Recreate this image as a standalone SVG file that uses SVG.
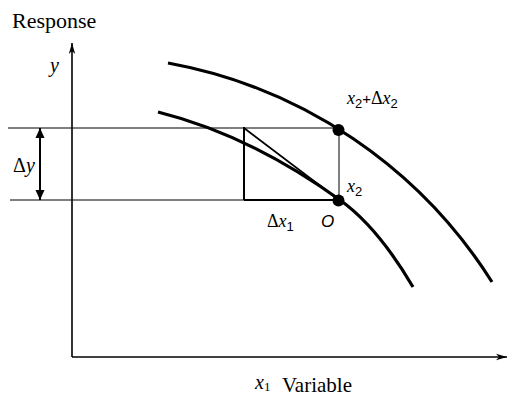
<svg xmlns="http://www.w3.org/2000/svg" width="524" height="403" viewBox="0 0 524 403">
<style>
text{font-family:"Liberation Serif","Tinos","DejaVu Serif","Times New Roman",serif;fill:#000}
.i{font-style:italic}
.s{font-family:"Liberation Sans","Arimo",Arial,sans-serif}
.thin{stroke:#000;stroke-width:1;fill:none}
.axis{stroke:#000;stroke-width:1.6;fill:none}
.diag{stroke:#000;stroke-width:1.8;fill:none}
.mid{stroke:#000;stroke-width:2;fill:none}
.curve{stroke:#000;stroke-width:3.2;fill:none;stroke-linecap:butt}
</style>
<defs>
<marker id="ax" markerWidth="12" markerHeight="8" refX="11" refY="4" orient="auto" markerUnits="userSpaceOnUse">
<path d="M0,0.8 L11,4 L0,7.2 L3,4 Z" fill="#000"/>
</marker>
<marker id="dh" markerWidth="10" markerHeight="10" refX="10" refY="5" orient="auto" markerUnits="userSpaceOnUse">
<path d="M0,0.5 L10,5 L0,9.5 Z" fill="#000"/>
</marker>
</defs>
<g id="axes">
<line x1="72" y1="357" x2="72" y2="43" class="axis" marker-end="url(#ax)"/>
<line x1="72" y1="357" x2="507" y2="357" class="axis" marker-end="url(#ax)"/>
</g>
<g id="connectors">
<line x1="8" y1="128" x2="339" y2="128" class="thin"/>
<line x1="10" y1="200" x2="244" y2="200" class="thin"/>
<line x1="244" y1="200" x2="339" y2="200" class="mid"/>
<line x1="244" y1="127" x2="244" y2="200" class="mid"/>
<line x1="339" y1="128" x2="339" y2="200" class="thin"/>
<line x1="244" y1="128" x2="339" y2="200" class="diag"/>
<line x1="40" y1="164" x2="40" y2="128" class="mid" marker-end="url(#dh)"/>
<line x1="40" y1="164" x2="40" y2="200" class="mid" marker-end="url(#dh)"/>
</g>
<g id="curve-outer">
<path d="M168,63 A486,486 0 0 1 492,282" class="curve"/>
</g>
<g id="curve-inner">
<path d="M158,112 C218.7,127.2 279.3,156.3 340,200 C364.3,217.5 388.7,245.7 413,287" class="curve"/>
</g>
<g id="point-top"><circle cx="338.5" cy="130" r="6" fill="#000"/></g>
<g id="point-O"><circle cx="338.5" cy="200.5" r="6" fill="#000"/></g>
<g id="labels">
<text x="12" y="28" font-size="22">Response</text>
<text x="50" y="72" class="i" font-size="20">y</text>
<text x="13" y="172" font-size="20">Δ<tspan class="i">y</tspan></text>
<text x="267" y="227" font-size="18">Δ<tspan class="i">x</tspan><tspan class="s" font-size="13" dy="4">1</tspan></text>
<text x="321" y="227" class="s i" font-size="17">O</text>
<text x="347" y="192" class="i" font-size="18">x<tspan class="s" font-style="normal" font-size="13" dy="4">2</tspan></text>
<text x="347" y="104" font-size="18"><tspan class="i">x</tspan><tspan class="s" font-size="13" dy="4">2</tspan><tspan class="s" font-size="15" dy="-4">+</tspan>Δ<tspan class="i">x</tspan><tspan class="s" font-size="13" dy="4">2</tspan></text>
<text x="255" y="389" class="i" font-size="20">x<tspan font-style="normal" font-size="13" dy="2">1</tspan></text>
<text x="282" y="392" font-size="21">Variable</text>
</g>
</svg>
